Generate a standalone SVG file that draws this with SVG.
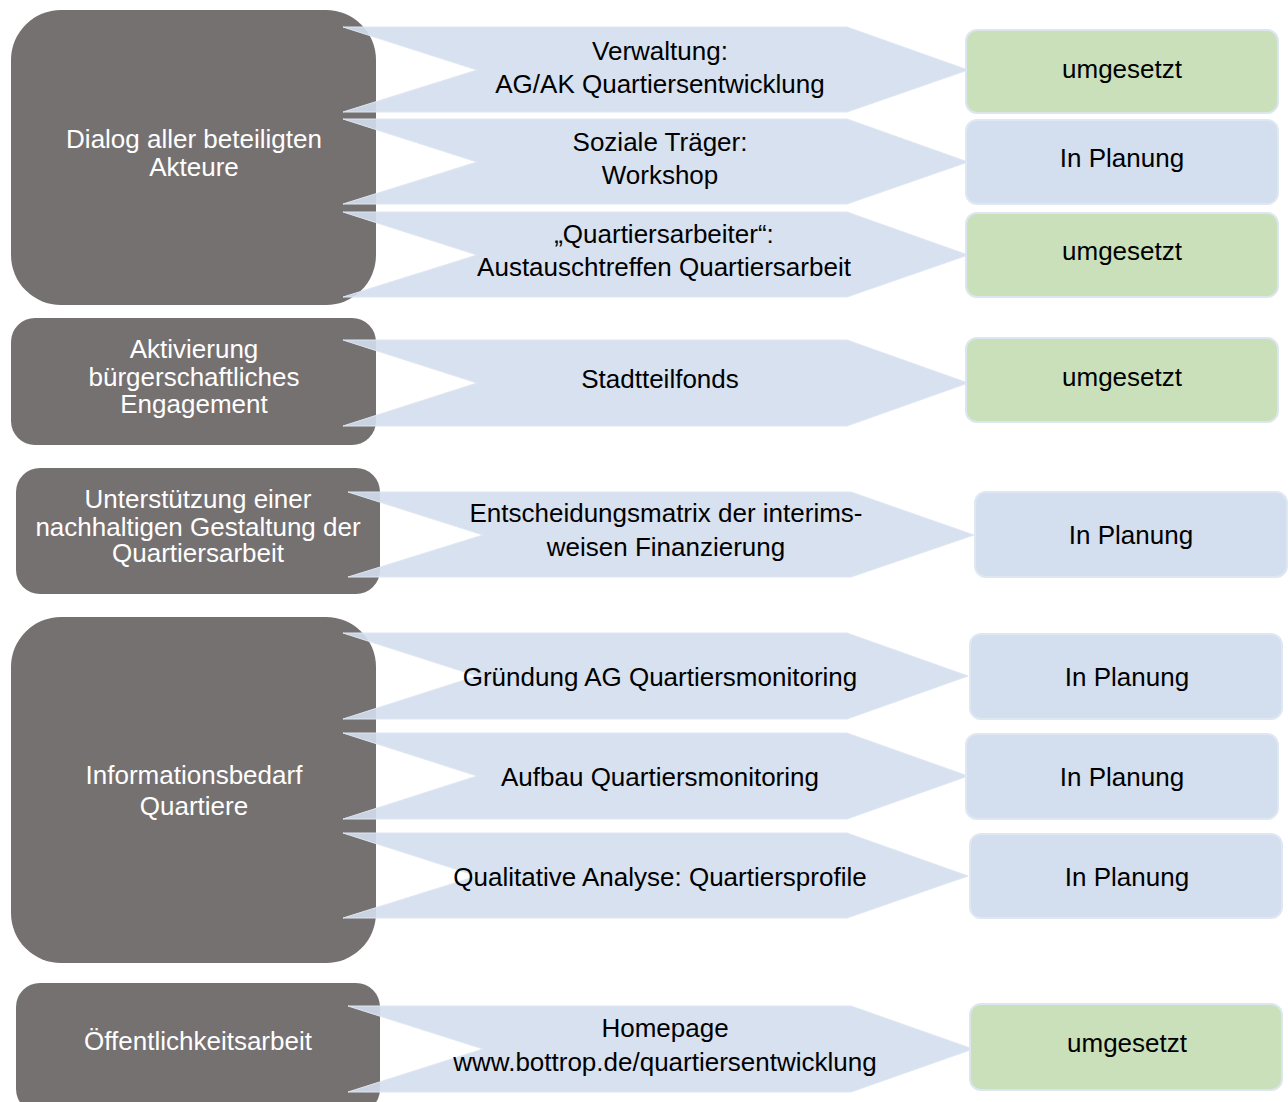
<svg xmlns="http://www.w3.org/2000/svg" width="1288" height="1102" viewBox="0 0 1288 1102">
<style>
.g{fill:#767171}
.gt{fill:#ffffff;font-family:"Liberation Sans",Arial,sans-serif;font-size:26px;text-anchor:middle}
.ar{fill:#d3deee;fill-opacity:0.9;stroke:#dfe7f2;stroke-width:1}
.at{fill:#000000;font-family:"Liberation Sans",Arial,sans-serif;font-size:26px;text-anchor:middle}
.ok{fill:#c9e0ba;stroke:#dce6ef;stroke-width:2}
.pl{fill:#d3deee;stroke:#dfe7f2;stroke-width:2}
</style>
<rect width="1288" height="1102" fill="#ffffff"/>
<g id="topic-dialog"><rect class="g" x="11" y="10" width="365" height="295" rx="50"/><text class="gt" x="194" y="148">Dialog aller beteiligten</text><text class="gt" x="194" y="176">Akteure</text></g>
<g id="topic-aktivierung"><rect class="g" x="11" y="318" width="365" height="127" rx="24"/><text class="gt" x="194" y="358">Aktivierung</text><text class="gt" x="194" y="386">bürgerschaftliches</text><text class="gt" x="194" y="413">Engagement</text></g>
<g id="topic-unterstuetzung"><rect class="g" x="16" y="468" width="364" height="126" rx="24"/><text class="gt" x="198" y="508">Unterstützung einer</text><text class="gt" x="198" y="536">nachhaltigen Gestaltung der</text><text class="gt" x="198" y="562">Quartiersarbeit</text></g>
<g id="topic-information"><rect class="g" x="11" y="617" width="365" height="346" rx="50"/><text class="gt" x="194" y="784">Informationsbedarf</text><text class="gt" x="194" y="815">Quartiere</text></g>
<g id="topic-oeffentlichkeit"><rect class="g" x="16" y="983" width="364" height="130" rx="24"/><text class="gt" x="198" y="1050">Öffentlichkeitsarbeit</text></g>
<g id="connectors">
<polygon class="ar" points="343,27 847,27 968,70 847,112 343,112 477,70"/>
<polygon class="ar" points="343,119 847,119 968,162 847,204 343,204 477,162"/>
<polygon class="ar" points="343,212 847,212 968,255 847,297 343,297 477,255"/>
<polygon class="ar" points="343,340 847,340 968,383 847,426 343,426 477,383"/>
<polygon class="ar" points="348,492 851,492 974,535 851,577 348,577 483,535"/>
<polygon class="ar" points="343,633 847,633 968,676 847,719 343,719 477,676"/>
<polygon class="ar" points="343,733 847,733 968,776 847,819 343,819 477,776"/>
<polygon class="ar" points="343,833 847,833 968,876 847,918 343,918 477,876"/>
<polygon class="ar" points="348,1006 851,1006 973,1049 851,1092 348,1092 483,1049"/>
</g>
<g id="measure-verwaltung"><text class="at" x="660" y="60">Verwaltung:</text><text class="at" x="660" y="93">AG/AK Quartiersentwicklung</text></g>
<g id="measure-soziale"><text class="at" x="660" y="151">Soziale Träger:</text><text class="at" x="660" y="184">Workshop</text></g>
<g id="measure-quartiersarbeiter"><text class="at" x="664" y="243">„Quartiersarbeiter“:</text><text class="at" x="664" y="276">Austauschtreffen Quartiersarbeit</text></g>
<g id="measure-stadtteilfonds"><text class="at" x="660" y="388">Stadtteilfonds</text></g>
<g id="measure-entscheidung"><text class="at" x="666" y="522">Entscheidungsmatrix der interims-</text><text class="at" x="666" y="556">weisen Finanzierung</text></g>
<g id="measure-gruendung"><text class="at" x="660" y="686">Gründung AG Quartiersmonitoring</text></g>
<g id="measure-aufbau"><text class="at" x="660" y="786">Aufbau Quartiersmonitoring</text></g>
<g id="measure-qualitativ"><text class="at" x="660" y="886">Qualitative Analyse: Quartiersprofile</text></g>
<g id="measure-homepage"><text class="at" x="665" y="1037">Homepage</text><text class="at" x="665" y="1071">www.bottrop.de/quartiersentwicklung</text></g>
<g id="status-1"><rect class="ok" x="966" y="30" width="312" height="83" rx="11"/><text class="at" x="1122" y="78">umgesetzt</text></g>
<g id="status-2"><rect class="pl" x="966" y="120" width="312" height="84" rx="11"/><text class="at" x="1122" y="167">In Planung</text></g>
<g id="status-3"><rect class="ok" x="966" y="213" width="312" height="84" rx="11"/><text class="at" x="1122" y="260">umgesetzt</text></g>
<g id="status-4"><rect class="ok" x="966" y="338" width="312" height="84" rx="11"/><text class="at" x="1122" y="386">umgesetzt</text></g>
<g id="status-5"><rect class="pl" x="975" y="492" width="312" height="85" rx="11"/><text class="at" x="1131" y="544">In Planung</text></g>
<g id="status-6"><rect class="pl" x="970" y="634" width="312" height="85" rx="11"/><text class="at" x="1127" y="686">In Planung</text></g>
<g id="status-7"><rect class="pl" x="966" y="734" width="312" height="85" rx="11"/><text class="at" x="1122" y="786">In Planung</text></g>
<g id="status-8"><rect class="pl" x="970" y="834" width="312" height="84" rx="11"/><text class="at" x="1127" y="886">In Planung</text></g>
<g id="status-9"><rect class="ok" x="970" y="1004" width="312" height="86" rx="11"/><text class="at" x="1127" y="1052">umgesetzt</text></g>
</svg>
